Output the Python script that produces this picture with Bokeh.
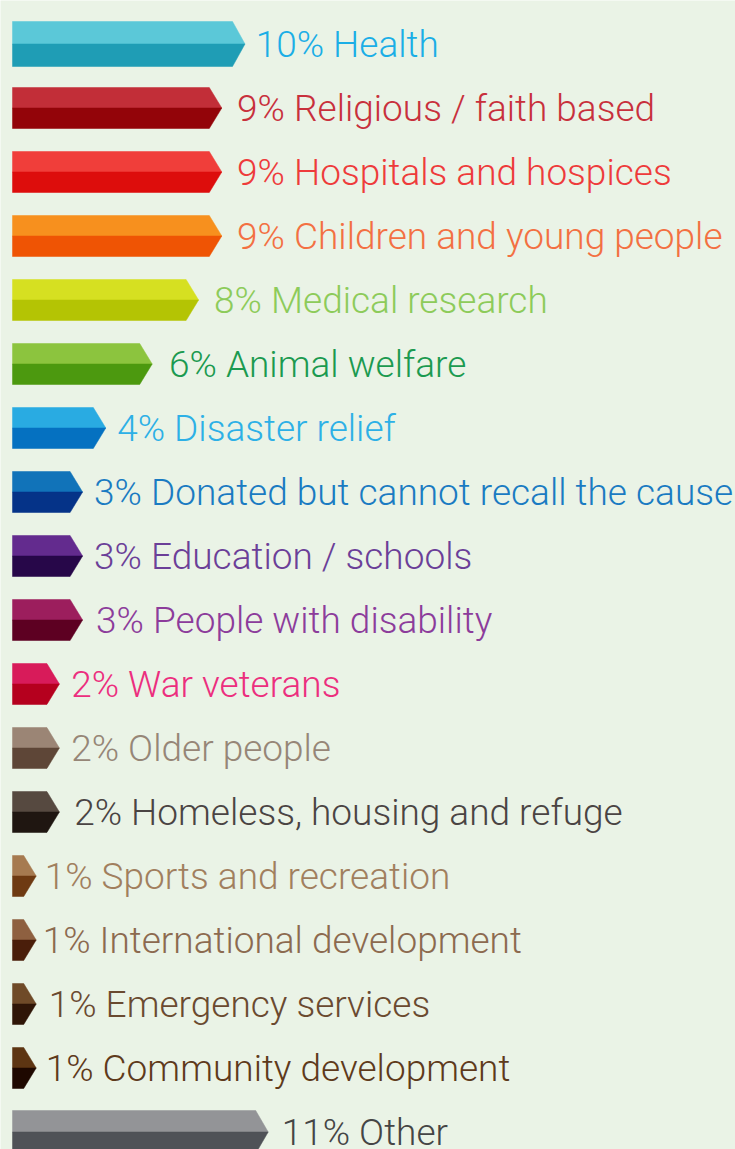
from bokeh.plotting import figure
from bokeh.models import Range1d, ColumnDataSource
from bokeh.core.properties import value
from bokeh.embed import file_html
from bokeh.resources import INLINE

# ---- data ----
causes = [
    "Health", "Religious / faith based", "Hospitals and hospices",
    "Children and young people", "Medical research", "Animal welfare",
    "Disaster relief", "Donated but cannot recall the cause",
    "Education / schools", "People with disability", "War veterans",
    "Older people", "Homeless, housing and refuge", "Sports and recreation",
    "International development", "Emergency services",
    "Community development", "Other",
]
percent = [10, 9, 9, 9, 8, 6, 4, 3, 3, 3, 2, 2, 2, 1, 1, 1, 1, 11]

# ---- styles ----
top_colors = ["#5BC8D8", "#C22E38", "#F03E3A", "#F7901E", "#D6E021", "#8CC43E",
              "#29ABE2", "#1173B9", "#632B8E", "#9C1E5D", "#D81B5A", "#9B8575",
              "#564940", "#A67A50", "#8E6040", "#6F4A28", "#5D3512", "#939497"]
bottom_colors = ["#1F9DB5", "#930409", "#DD0D0C", "#EF5404", "#B4C404", "#4C990F",
                 "#0571C1", "#053388", "#270749", "#5D0022", "#B5001E", "#5E4637",
                 "#1F1611", "#6E3A12", "#4A1E0A", "#2F1507", "#1E0800", "#4F5257"]
text_colors = ["#1BAEE6", "#C8303C", "#EE3B3B", "#F37042", "#8DCB5A", "#1B9A50",
               "#2DB0E6", "#1A7BC2", "#6B3F98", "#8C3C9B", "#EC2E7E", "#968677",
               "#4A4443", "#A17F5E", "#8C6A4F", "#6A4A30", "#5E3A1B", "#454545"]
bar_px = [45] + [41] * 16 + [43]
gap_px = [10.7, 15.3, 15.3, 15.3, 15.5, 16.8, 11.4, 11.5, 11.5, 13.5,
          11.8, 11.8, 14.8, 8.5, 6.5, 12.5, 9.5, 13.5]

BG = "#EAF3E6"
PX = 23.2       # pixels per percent
ROW = 64.0      # pixels per row
TIP = 12.5      # arrow tip width in px
LEFT = 12.0     # bar left edge in px
W, H = 735, 1149

p = figure(width=W, height=H, output_backend="svg", toolbar_location=None,
           x_range=Range1d(0, W / PX),
           y_range=Range1d((H - 43.5) / ROW, (0 - 43.5) / ROW),
           min_border=0, min_border_left=0, min_border_right=0,
           min_border_top=0, min_border_bottom=0)
p.axis.visible = False
p.grid.visible = False
p.outline_line_color = None
p.background_fill_color = BG
p.border_fill_color = BG

x0 = LEFT / PX
tip = TIP / PX
rows = list(range(len(causes)))

top_xs, top_ys, bot_xs, bot_ys = [], [], [], []
label_x = []
for i, v in enumerate(percent):
    hh = bar_px[i] / 2 / ROW
    top_xs.append([x0, v, v + tip, x0])
    top_ys.append([i - hh, i - hh, i, i])
    bot_xs.append([x0, v + tip, v, x0])
    bot_ys.append([i, i, i + hh, i + hh])
    label_x.append(v + tip + gap_px[i] / PX)

p.patches(xs=top_xs, ys=top_ys, fill_color=top_colors, line_color=top_colors, line_width=0.5)
p.patches(xs=bot_xs, ys=bot_ys, fill_color=bottom_colors, line_color=bottom_colors, line_width=0.5)

labels = [f"{v}% {c}" for v, c in zip(percent, causes)]
src = ColumnDataSource(dict(x=label_x, y=rows, text=labels, color=text_colors))
p.text(x="x", y="y", text="text", source=src, text_color="color",
       text_font=value("Roboto Light"), text_font_size="37px",
       text_baseline="alphabetic", text_align="left", y_offset=0)

open("out.html", "w").write(file_html(p, INLINE))
